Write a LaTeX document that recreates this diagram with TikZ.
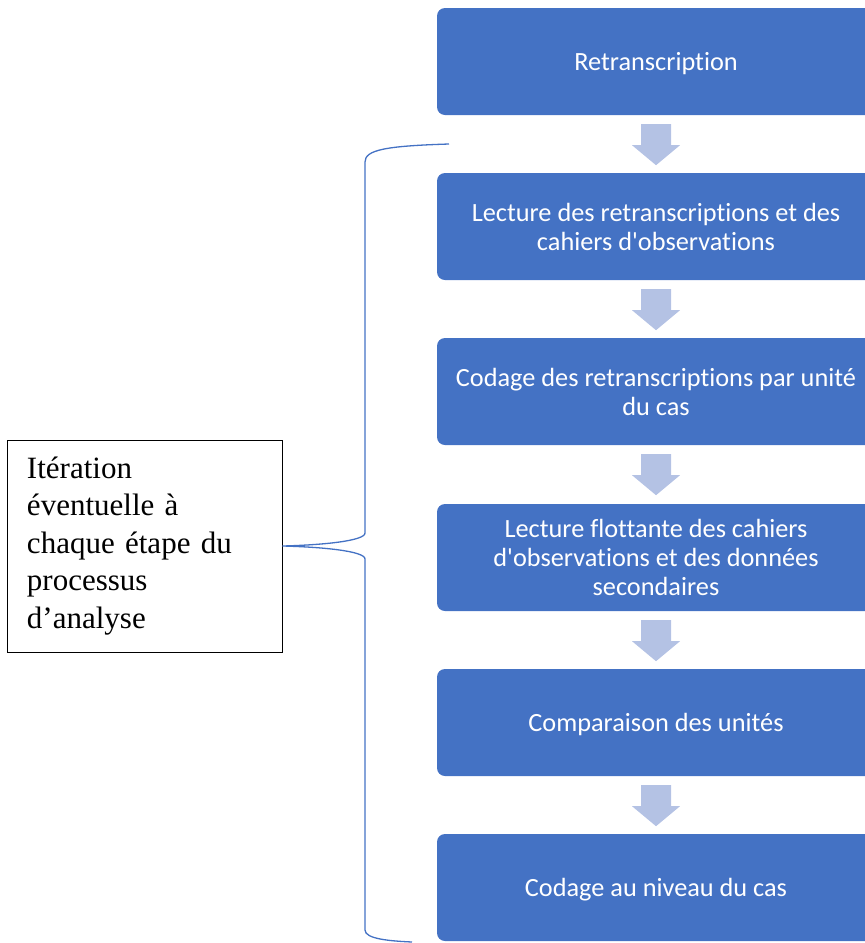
\documentclass[tikz,border=0pt]{standalone}
\usepackage{fontspec}
\setmainfont{Liberation Serif}
\newfontfamily\boxfont[Ligatures=NoCommon]{Carlito}
\usetikzlibrary{calc}
\definecolor{boxblue}{HTML}{4472C4}
\definecolor{arrowblue}{HTML}{B4C2E4}
\newcommand\oneline[1]{\raisebox{0pt}[20pt][2pt]{#1}}
\tikzset{
  stepbox/.style={rectangle, rounded corners=8pt, fill=boxblue, text=white,
    minimum width=438pt, minimum height=107pt, inner sep=0pt, align=center,
    font=\boxfont\fontsize{26.3pt}{29pt}\selectfont},
  notebox/.style={rectangle, draw=black, line width=0.9pt, minimum width=275pt,
    minimum height=212pt, text width=235pt, align=left, inner sep=0pt,
    font=\fontsize{31pt}{37.5pt}\selectfont},
  bracepath/.style={draw=boxblue, line width=1.3pt},
  downarrow/.style={fill=arrowblue}
}
\begin{document}
\begin{tikzpicture}[x=1pt, y=-1pt]
\useasboundingbox (0,0) rectangle (865,943);
\clip (0,0) rectangle (865,943);
\node[stepbox] (b1) at (656,61.5) {\oneline{Retranscription}};
\node[stepbox] (b2) at (656,226.5) {Lecture des retranscriptions et des\\cahiers d'observations};
\node[stepbox] (b3) at (656,391.5) {Codage des retranscriptions par unité\\du cas};
\node[stepbox] (b4) at (656,557.5) {Lecture flottante des cahiers\\d'observations et des données\\secondaires};
\node[stepbox] (b5) at (656,722.5) {\oneline{Comparaison des unités}};
\node[stepbox] (b6) at (656,887.5) {\oneline{Codage au niveau du cas}};
\foreach \a in {b1,b2,b3,b4,b5}{
  \fill[downarrow] ($(\a.south)+(-15,9)$) -- ($(\a.south)+(15,9)$) -- ($(\a.south)+(15,30)$)
    -- ($(\a.south)+(24,30)$) -- ($(\a.south)+(0,50)$) -- ($(\a.south)+(-24,30)$)
    -- ($(\a.south)+(-15,30)$) -- cycle;
}
\node[notebox] (note) at (144.5,546) {Itération\\éventuelle à\\chaque étape du\\processus\\d’analyse};
\coordinate (bt) at (449,144);
\coordinate (bb) at (412,942);
\draw[bracepath] (bt) .. controls (385,146) and (365,150) .. (365,162)
  -- (365,533) .. controls (365,541) and (322,545) .. (note.east)
  .. controls (322,547) and (365,551) .. (365,559)
  -- (365,930) .. controls (365,939) and (390,941) .. (bb);
\end{tikzpicture}
\end{document}
